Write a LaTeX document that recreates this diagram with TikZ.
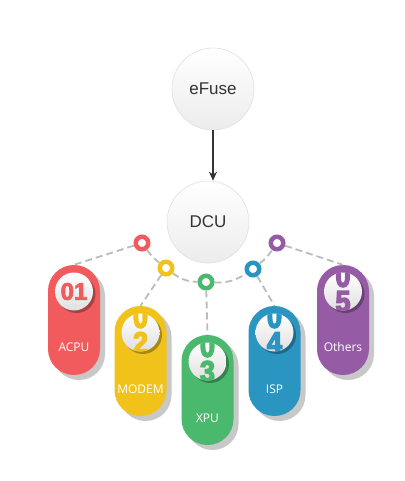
\documentclass[tikz,border=0pt]{standalone}
\usepackage{fontspec}
\setmainfont{Liberation Sans}
\newfontfamily\labfont{Open Sans}
\newfontfamily\digfont{Liberation Sans}[BoldFeatures={FakeBold=3}]
\newfontfamily\heavyfont{Liberation Sans}[BoldFeatures={FakeBold=5}]
\usetikzlibrary{shadows,arrows.meta}
\definecolor{cred}{HTML}{F15B5D}
\definecolor{cyel}{HTML}{F1C31A}
\definecolor{cgrn}{HTML}{4AB96D}
\definecolor{cblu}{HTML}{2B95C2}
\definecolor{cpur}{HTML}{955BA5}
\definecolor{cshadow}{HTML}{C8C8C8}
\definecolor{chub}{HTML}{ECECEC}
\definecolor{cborder}{HTML}{E0E0E0}
\definecolor{ctext}{HTML}{333333}
\definecolor{cbadge}{HTML}{E0E0E0}
\definecolor{cdash}{HTML}{BBBBBB}
\begin{document}
\begin{tikzpicture}[x=1pt,y=-1pt,
 hub/.style={circle,minimum size=82pt,inner sep=0pt,draw=cborder,line width=0.6pt,
   top color=white,bottom color=chub,font=\fontsize{17}{17}\selectfont,text=ctext},
 ring/.style={circle,draw=#1,line width=4.5pt,fill=white,minimum size=12.5pt,inner sep=0pt},
 pill/.style={rectangle,rounded corners=25.9pt,fill=#1,minimum width=52pt,minimum height=110pt,
   inner sep=0pt,drop shadow={shadow xshift=5pt,shadow yshift=-5pt,fill=cshadow,opacity=1}},
 badge/.style={circle,minimum size=38pt,inner sep=0pt,top color=white,bottom color=cbadge,
   drop shadow={shadow xshift=2.5pt,shadow yshift=-2.5pt,fill=#1!70!black,opacity=1}},
 lab/.style={text=white,font=\labfont\fontsize{12}{12}\selectfont,inner sep=0pt},
 dig/.style={text=#1,font=\heavyfont\bfseries\fontsize{27}{27}\selectfont,inner sep=0pt},
 bigdig/.style={text=#1,font=\digfont\bfseries\fontsize{24}{24}\selectfont,inner sep=0pt},
 conn/.style={draw=cdash,line width=1.8pt,dash pattern=on 7pt off 4pt},
 arr/.style={draw=ctext,line width=1.6pt,-{Stealth[length=9pt,width=8pt]}}
]
\useasboundingbox (0,0) rectangle (404,481);
% hubs
\node[hub] (efuse) at (213,89) {eFuse};
\node[hub] (dcu) at (208,222) {DCU};
\draw[arr] (efuse.south) -- (efuse.south |- dcu.north);
% pills
\node[pill=cred] (p1) at (74,320) {};
\node[pill=cyel] (p2) at (140.5,361) {};
\node[pill=cgrn] (p3) at (207.5,390) {};
\node[pill=cblu] (p4) at (274.5,361) {};
\node[pill=cpur] (p5) at (343,320) {};
% badges
\node[badge=cred] (b1) at (74,291.5) {};
\node[badge=cyel] (b2) at (140.5,332.5) {};
\node[badge=cgrn] (b3) at (207.5,361.5) {};
\node[badge=cblu] (b4) at (274.5,332.5) {};
\node[badge=cpur] (b5) at (343,291.5) {};
\node[bigdig=cred] (d1) at (b1) {01};
\foreach \b/\c/\n in {b2/cyel/2,b3/cgrn/3,b4/cblu/4,b5/cpur/5}{
  \begin{scope}
    \clip (\b.center) circle (19pt);
    \node[dig=\c] at ([yshift=16pt]\b.center) {\scalebox{1}[1.2]{0}};
    \node[dig=\c] at ([yshift=-10pt]\b.center) {\scalebox{1}[1.1]{\n}};
  \end{scope}
}
% labels
\node[lab] (l1) at (74,347) {ACPU};
\node[lab] (l2) at (140.5,389) {MODEM};
\node[lab] (l3) at (207.5,418) {XPU};
\node[lab] (l4) at (274.5,389) {ISP};
\node[lab] (l5) at (343,347) {Others};
% rings
\node[ring=cred] (r1) at (142,243) {};
\node[ring=cyel] (r2) at (166,268) {};
\node[ring=cgrn] (r3) at (206,282) {};
\node[ring=cblu] (r4) at (253,269) {};
\node[ring=cpur] (r5) at (277,243) {};
% connectors
\draw[conn] (r1) to[bend right=8] (r2);
\draw[conn] (r2) to[bend right=18] (r3);
\draw[conn] (r3) to[bend right=18] (r4);
\draw[conn] (r4) to[bend right=8] (r5);
\draw[conn] (r1) -- (p1.north);
\draw[conn] (r2) -- (p2.north);
\draw[conn] (r3) -- (p3.north);
\draw[conn] (r4) -- (p4.north);
\draw[conn] (r5) -- (p5.north);
\end{tikzpicture}
\end{document}
